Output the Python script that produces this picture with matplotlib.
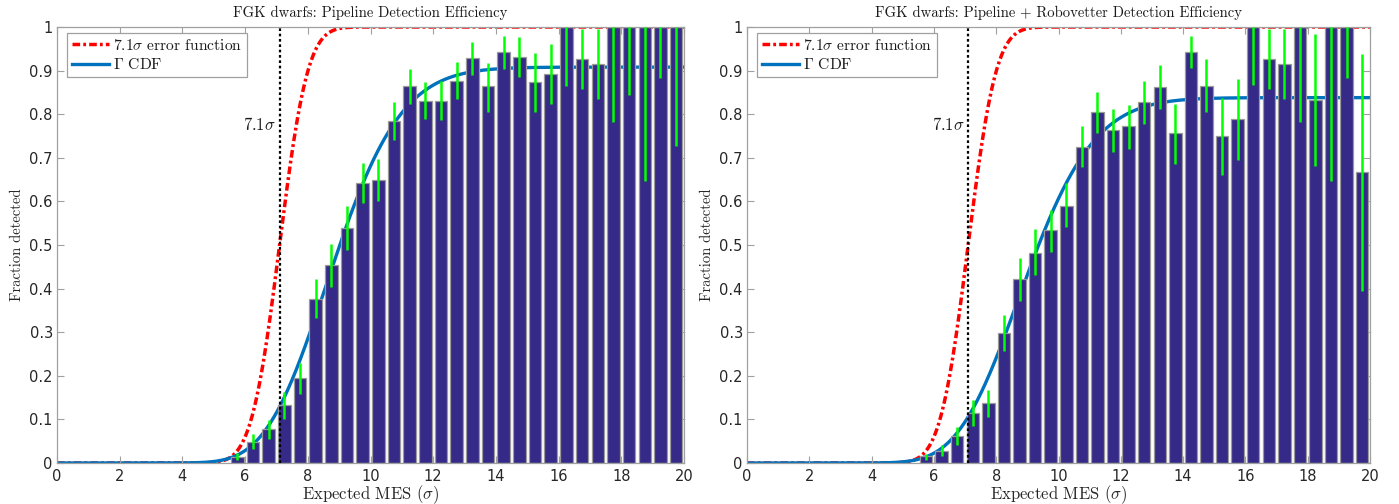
import math
import numpy as np
import matplotlib
matplotlib.use("Agg")
import matplotlib.pyplot as plt

# ---------------- data ----------------
mes_centers = [5.75, 6.25, 6.75, 7.25, 7.75, 8.25, 8.75, 9.25, 9.75, 10.25,
               10.75, 11.25, 11.75, 12.25, 12.75, 13.25, 13.75, 14.25, 14.75, 15.25,
               15.75, 16.25, 16.75, 17.25, 17.75, 18.25, 18.75, 19.25, 19.75]

pipe_frac = [0.014, 0.048, 0.077, 0.133, 0.195, 0.376, 0.453, 0.538, 0.642, 0.650,
             0.784, 0.864, 0.831, 0.831, 0.877, 0.929, 0.864, 0.942, 0.931, 0.873,
             0.892, 1.0, 0.926, 0.915, 1.0, 1.0, 1.0, 1.0, 1.0]
pipe_lo = [0.006, 0.032, 0.055, 0.100, 0.159, 0.332, 0.403, 0.488, 0.597, 0.602,
           0.740, 0.823, 0.789, 0.786, 0.834, 0.891, 0.806, 0.904, 0.885, 0.806,
           0.823, 0.865, 0.857, 0.835, 0.782, 0.845, 0.646, 0.882, 0.727]
pipe_hi = [0.023, 0.067, 0.099, 0.163, 0.229, 0.421, 0.503, 0.589, 0.688, 0.697,
           0.829, 0.904, 0.874, 0.876, 0.919, 0.966, 0.918, 0.980, 0.976, 0.940,
           0.962, 1.0, 0.995, 0.995, 1.0, 1.0, 1.0, 1.0, 1.0]

robo_frac = [0.015, 0.028, 0.062, 0.114, 0.137, 0.298, 0.421, 0.482, 0.534, 0.590,
             0.725, 0.805, 0.763, 0.772, 0.827, 0.862, 0.756, 0.942, 0.865, 0.749,
             0.789, 1.0, 0.927, 0.915, 1.0, 0.832, 1.0, 1.0, 0.667]
robo_lo = [0.006, 0.015, 0.042, 0.084, 0.105, 0.256, 0.372, 0.431, 0.485, 0.542,
           0.678, 0.758, 0.714, 0.721, 0.778, 0.811, 0.686, 0.905, 0.805, 0.661,
           0.695, 0.866, 0.858, 0.836, 0.783, 0.682, 0.646, 0.883, 0.395]
robo_hi = [0.021, 0.042, 0.082, 0.144, 0.167, 0.340, 0.471, 0.536, 0.580, 0.642,
           0.774, 0.852, 0.812, 0.822, 0.875, 0.913, 0.824, 0.980, 0.927, 0.837,
           0.881, 1.0, 0.996, 0.996, 1.0, 0.983, 1.0, 1.0, 0.937]

# model parameters
erf_mu, erf_sigma = 7.1, 1.0 / math.sqrt(2)
pipe_gamma = dict(a=27.0, b=0.33, c=0.908)
robo_gamma = dict(a=27.0, b=0.335, c=0.838)

titles = ["FGK dwarfs: Pipeline Detection Efficiency",
          "FGK dwarfs: Pipeline + Robovetter Detection Efficiency"]
x_ticks = [0, 2, 4, 6, 8, 10, 12, 14, 16, 18, 20]
y_ticks = [0, 0.1, 0.2, 0.3, 0.4, 0.5, 0.6, 0.7, 0.8, 0.9, 1.0]
y_ticklabels = ["0", "0.1", "0.2", "0.3", "0.4", "0.5", "0.6", "0.7", "0.8", "0.9", "1"]


def gamma_cdf(x, a, b):
    t = np.asarray(x, dtype=float) / b
    out = np.zeros_like(t)
    pos = t > 0
    tt = t[pos]
    n = np.arange(0, 600)
    lg = np.array([math.lgamma(a + k + 1) for k in n])
    logterms = (a + n[None, :]) * np.log(tt[:, None]) - tt[:, None] - lg[None, :]
    out[pos] = np.exp(logterms).sum(axis=1)
    return np.clip(out, 0, 1)


def norm_cdf(x, mu, s):
    return np.array([0.5 * (1 + math.erf((v - mu) / (s * math.sqrt(2)))) for v in x])


# ---------------- style ----------------
plt.rcParams["mathtext.fontset"] = "cm"
serif = "cmr10"
tick_color = "#262626"
spine_color = "#a0a0a0"
bar_color = "#352a87"
green = "#00ff00"
blue = "#0072bd"

fig = plt.figure(figsize=(13.99, 5.04), dpi=100)
positions = [[57 / 1399, 41 / 504, 627 / 1399, 436 / 504],
             [747 / 1399, 41 / 504, 623 / 1399, 436 / 504]]

xs = np.linspace(0, 20, 801)
datasets = [(pipe_frac, pipe_lo, pipe_hi, pipe_gamma),
            (robo_frac, robo_lo, robo_hi, robo_gamma)]

for i, (frac, lo, hi, gp) in enumerate(datasets):
    ax = fig.add_axes(positions[i])
    erf_line, = ax.plot(xs, norm_cdf(xs, erf_mu, erf_sigma), color="red", lw=2.5,
                        dashes=(2.2, 0.9, 0.8, 0.9), zorder=1,
                        label=r"$7.1\sigma$ error function")
    gam_line, = ax.plot(xs, gp["c"] * gamma_cdf(xs, gp["a"], gp["b"]), color=blue,
                        lw=2.4, zorder=1, label=r"$\Gamma$ CDF")
    ax.bar(mes_centers, frac, width=0.4, color=bar_color, edgecolor="#9a9a9a",
           linewidth=0.9, zorder=2)
    frac_a = np.array(frac)
    yerr = np.vstack([frac_a - np.array(lo), np.array(hi) - frac_a])
    ax.errorbar(mes_centers, frac, yerr=yerr, fmt="none", ecolor=green,
                elinewidth=1.8, capsize=0, zorder=3)
    ax.axvline(erf_mu, color="black", ls=(0, (1.2, 1.2)), lw=1.6, zorder=4)
    ax.text(erf_mu - 0.12, 0.775, r"$7.1\sigma$", ha="right", va="center",
            fontsize=12, color="#1a1a1a", zorder=5)

    ax.set_xlim(0, 20)
    ax.set_ylim(0, 1)
    ax.set_xticks(x_ticks)
    ax.set_yticks(y_ticks)
    ax.set_yticklabels(y_ticklabels)
    ax.tick_params(direction="in", length=5, width=0.8, colors=spine_color,
                   labelcolor=tick_color, labelsize=10.5, top=True, right=True)
    ax.tick_params(axis="x", pad=4)
    ax.tick_params(axis="y", pad=3)
    for sp in ax.spines.values():
        sp.set_color(spine_color)
        sp.set_linewidth(0.9)
    ax.set_title(titles[i], fontsize=10.6, family=serif, color="#1a1a1a", pad=7)
    ax.set_xlabel(r"Expected MES ($\sigma$)", fontsize=12, family=serif,
                  color="#262626", labelpad=0)
    ax.set_ylabel("Fraction detected", fontsize=10.5, family=serif,
                  color="#262626", labelpad=4)
    leg = ax.legend(handles=[erf_line, gam_line], loc="upper left",
                    bbox_to_anchor=(0.016, 0.986), fancybox=False, framealpha=1,
                    edgecolor="#a0a0a0", borderpad=0.3, handlelength=2.4,
                    handletextpad=0.25, labelspacing=0.3, borderaxespad=0,
                    prop={"family": serif, "size": 11.2})
    leg.get_frame().set_linewidth(0.9)
    for t in leg.get_texts():
        t.set_color("#1a1a1a")

fig.savefig("out.png", dpi=100)
